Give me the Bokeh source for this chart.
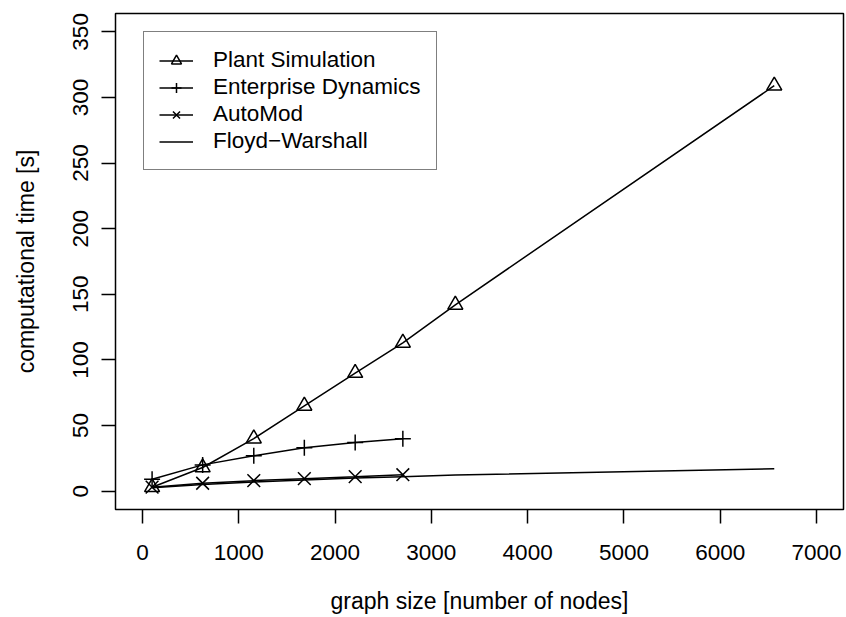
from bokeh.plotting import figure
from bokeh.models import FixedTicker, Legend, LegendItem, Range1d
from bokeh.embed import file_html
from bokeh.resources import INLINE

# data
sizes_plant = [100, 625, 1156, 1681, 2209, 2704, 3249, 6561]
time_plant = [3, 18, 40, 65, 90, 113, 142, 309]

sizes_ed = [100, 625, 1156, 1681, 2209, 2704]
time_ed = [9, 20, 27, 33, 37, 40]

sizes_am = [100, 625, 1156, 1681, 2209, 2704]
time_am = [3, 6, 8, 9.5, 11, 12.5]

sizes_fw = [100, 625, 1156, 1681, 2209, 2704, 3249, 6561]
time_fw = [2.5, 5, 7, 8.5, 10, 11, 12.2, 17]

x_ticks = [0, 1000, 2000, 3000, 4000, 5000, 6000, 7000]
y_ticks = [0, 50, 100, 150, 200, 250, 300, 350]

FONT = "Liberation Sans"
FS = "22.5px"
FS_T = "23px"

p = figure(width=846, height=617, output_backend="svg", toolbar_location=None,
           x_range=Range1d(-280, 7280), y_range=Range1d(-14, 364),
           min_border_left=115, min_border_right=3, min_border_top=13, min_border_bottom=108)
p.grid.visible = False
p.outline_line_color = "black"
p.outline_line_width = 1.5
p.background_fill_color = "white"
p.border_fill_color = "white"

for ax in (p.xaxis[0], p.yaxis[0]):
    ax.axis_line_color = None
    ax.major_tick_line_color = "black"
    ax.major_tick_line_width = 1.5
    ax.major_tick_out = 14
    ax.major_tick_in = 0
    ax.minor_tick_line_color = None
    ax.major_label_text_font = FONT
    ax.major_label_text_font_size = FS
    ax.major_label_text_color = "black"
    ax.axis_label_text_font = FONT
    ax.axis_label_text_font_size = FS_T
    ax.axis_label_text_font_style = "normal"
    ax.axis_label_text_color = "black"

p.xaxis.ticker = FixedTicker(ticks=x_ticks)
p.yaxis.ticker = FixedTicker(ticks=y_ticks)
p.xaxis.axis_label = "graph size [number of nodes]"
p.yaxis.axis_label = "computational time [s]"
p.xaxis.major_label_standoff = 21
p.xaxis.axis_label_standoff = 25
p.yaxis.major_label_standoff = 13
p.yaxis.axis_label_standoff = 32
p.yaxis.major_label_orientation = "vertical"

LW = 1.5
l1 = p.line(sizes_plant, time_plant, line_color="black", line_width=LW)
m1 = p.scatter(sizes_plant, time_plant, marker="triangle", size=15,
               fill_color=None, line_color="black", line_width=LW)
l2 = p.line(sizes_ed, time_ed, line_color="black", line_width=LW)
m2 = p.scatter(sizes_ed, time_ed, marker="cross", size=16,
               line_color="black", line_width=LW)
l3 = p.line(sizes_am, time_am, line_color="black", line_width=LW)
m3 = p.scatter(sizes_am, time_am, marker="x", size=18,
               line_color="black", line_width=LW)
l4 = p.line(sizes_fw, time_fw, line_color="black", line_width=LW)

legend = Legend(items=[
    LegendItem(label="Plant Simulation", renderers=[l1, m1]),
    LegendItem(label="Enterprise Dynamics", renderers=[l2, m2]),
    LegendItem(label="AutoMod", renderers=[l3, m3]),
    LegendItem(label="Floyd\u2212Warshall", renderers=[l4]),
], location=(28, 339))
legend.border_line_color = "black"
legend.border_line_width = 1.5
legend.background_fill_alpha = 1
legend.label_text_font = FONT
legend.label_text_font_size = FS
legend.label_text_color = "black"
legend.padding = 15
legend.spacing = 1
legend.glyph_width = 34
legend.glyph_height = 25
legend.label_height = 25
legend.label_standoff = 20
legend.label_width = 204
legend.margin = 0
p.add_layout(legend, "center")

open("out.html", "w").write(file_html(p, INLINE))
